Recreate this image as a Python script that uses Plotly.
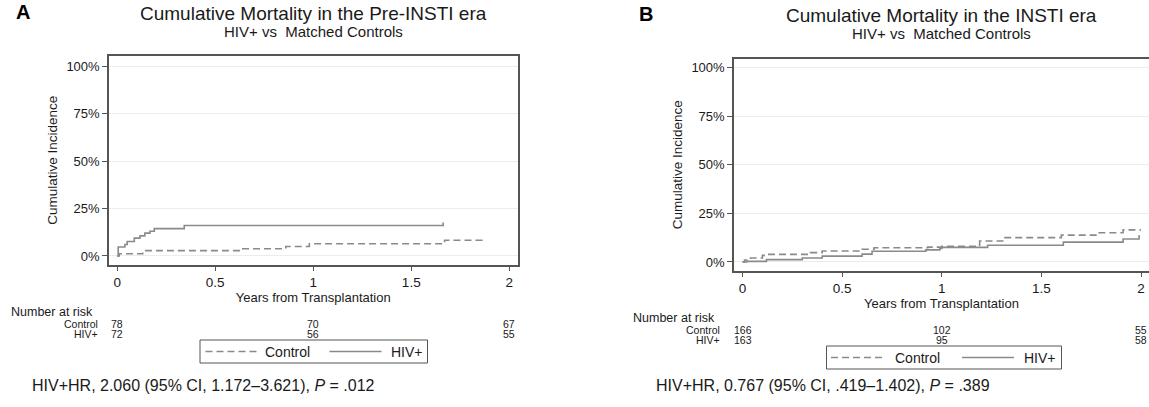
import plotly.graph_objects as go

W, H = 1149, 407

# ---------------- data ----------------
# Panel A: Pre-INSTI era (years, cumulative incidence %)
a_ctrl_t = [0, 0.01, 0.13, 0.63, 0.86, 0.98, 1.67, 1.86, 1.865]
a_ctrl_y = [0, 1.2, 2.8, 3.8, 5.0, 6.4, 8.3, 10.0, 10.0]
a_hiv_t = [0, 0.005, 0.039, 0.051, 0.087, 0.116, 0.141, 0.167, 0.189, 0.342, 1.663, 1.665]
a_hiv_y = [0, 4.7, 6.0, 7.6, 9.4, 10.6, 12.0, 13.0, 14.4, 16.0, 17.3, 17.3]

# Panel B: INSTI era
b_ctrl_t = [0, 0.01, 0.04, 0.10, 0.12, 0.34, 0.40, 0.60, 0.66, 0.93, 1.00, 1.19, 1.31, 1.60, 1.79, 1.91, 2.0]
b_ctrl_y = [0, 1.0, 2.0, 3.4, 3.9, 4.8, 5.6, 6.5, 7.3, 7.6, 8.0, 10.8, 12.5, 13.8, 15.0, 16.5, 16.5]
b_hiv_t = [0, 0.02, 0.12, 0.30, 0.40, 0.60, 0.65, 0.92, 0.99, 1.00, 1.23, 1.61, 1.91, 1.99, 1.995]
b_hiv_y = [0, 0.3, 1.2, 2.0, 3.0, 4.0, 5.5, 6.2, 7.0, 7.5, 8.6, 10.2, 11.8, 13.3, 13.3]

risk_times = [0, 1, 2]
a_risk_ctrl = [78, 70, 67]
a_risk_hiv = [72, 56, 55]
b_risk_ctrl = [166, 102, 55]
b_risk_hiv = [163, 95, 58]

x_ticks = [0, 0.5, 1, 1.5, 2]
x_ticktext = ["0", "0.5", "1", "1.5", "2"]
y_ticks = [0, 25, 50, 75, 100]
y_ticktext = ["0%", "25%", "50%", "75%", "100%"]

series_names = ["Control", "HIV+"]
titles = ["Cumulative Mortality in the Pre-INSTI era", "Cumulative Mortality in the INSTI era"]
subtitle = "HIV+ vs  Matched Controls"
hr_texts = ["HIV+HR, 2.060 (95% CI, 1.172\u20133.621), <i>P</i> = .012",
            "HIV+HR, 0.767 (95% CI, .419\u20131.402), <i>P</i> = .389"]

# ---------------- styling ----------------
FONT = "Liberation Sans, Arial, Helvetica, sans-serif"
LINE_COL = "#8a8a8a"
FRAME_COL = "#555555"
GRID_COL = "#ececec"
TXT = "#1a1a1a"
DASH = "7px,4px"

def px_x(p):
    return p / W

def px_y(p):
    return 1 - p / H

fig = go.Figure()

def add_pair(ct, cy, ht, hy, xa, ya):
    fig.add_trace(go.Scatter(x=ct, y=cy, mode="lines", line_shape="hv", name=series_names[0],
                             line=dict(color=LINE_COL, width=1.6, dash=DASH),
                             xaxis=xa, yaxis=ya, hoverinfo="skip"))
    fig.add_trace(go.Scatter(x=ht, y=hy, mode="lines", line_shape="hv", name=series_names[1],
                             line=dict(color=LINE_COL, width=1.6),
                             xaxis=xa, yaxis=ya, hoverinfo="skip"))

add_pair(a_ctrl_t, a_ctrl_y, a_hiv_t, a_hiv_y, "x", "y")
add_pair(b_ctrl_t, b_ctrl_y, b_hiv_t, b_hiv_y, "x2", "y2")

def xaxis_cfg(domain, rng, mirror):
    return dict(domain=domain, range=rng, tickmode="array", tickvals=x_ticks, ticktext=x_ticktext,
                ticks="outside", ticklen=5, tickcolor=FRAME_COL, tickwidth=1,
                showline=True, linecolor=FRAME_COL, linewidth=1.5, mirror=mirror,
                showgrid=False, zeroline=False,
                tickfont=dict(size=13.5, color=TXT, family=FONT),
                title=dict(text="Years from Transplantation", standoff=1,
                           font=dict(size=13, color=TXT, family=FONT)))

def yaxis_cfg(domain, rng, mirror, anchor):
    return dict(domain=domain, range=rng, tickmode="array", tickvals=y_ticks, ticktext=y_ticktext,
                ticks="outside", ticklen=5, tickcolor=FRAME_COL, tickwidth=1,
                showline=True, linecolor=FRAME_COL, linewidth=1.5, mirror=mirror,
                showgrid=True, gridcolor=GRID_COL, gridwidth=1, zeroline=False,
                anchor=anchor,
                tickfont=dict(size=13, color=TXT, family=FONT),
                title=dict(text="Cumulative Incidence", standoff=6,
                           font=dict(size=13.5, color=TXT, family=FONT)))

fig.update_layout(
    width=W, height=H, margin=dict(l=0, r=0, t=0, b=0),
    paper_bgcolor="white", plot_bgcolor="white",
    font=dict(family=FONT, color=TXT),
    xaxis=xaxis_cfg([px_x(109), px_x(517.5)], [-0.042, 2.042], True),
    yaxis=yaxis_cfg([px_y(264.5), px_y(56)], [-4.5, 105.3], True, "x"),
    xaxis2=dict(xaxis_cfg([px_x(734), 1.0], [-0.0428, 2.04], True), anchor="y2"),
    yaxis2=yaxis_cfg([px_y(270.5), px_y(59)], [-4.4, 104.4], False, "x2"),
    showlegend=False,
)

ann = []
shapes = []
def A(**kw):
    base = dict(showarrow=False, xanchor="center", yanchor="middle",
                font=dict(family=FONT, color=TXT, size=13))
    base.update(kw)
    ann.append(base)

# Panel letters
A(text="<b>A</b>", x=px_x(23), y=px_y(12.5), xref="paper", yref="paper",
  font=dict(family=FONT, color="black", size=20))
A(text="<b>B</b>", x=px_x(646), y=px_y(13.5), xref="paper", yref="paper",
  font=dict(family=FONT, color="black", size=20))

# Titles
for xr, ty, sy, t in [("x", 13.5, 31, titles[0]), ("x2", 15, 33, titles[1])]:
    A(text=t, x=1, xref=xr, y=px_y(ty), yref="paper",
      font=dict(family=FONT, color=TXT, size=19))
    A(text=subtitle, x=1, xref=xr, y=px_y(sy), yref="paper",
      font=dict(family=FONT, color=TXT, size=15))

# Number at risk tables
ROW = dict(family=FONT, color=TXT, size=10.5)
for (xr, nar_x, lab_x, y0, yc, yh, ctrl, hiv) in [
        ("x", 9, 100, 311.5, 323.5, 333.5, a_risk_ctrl, a_risk_hiv),
        ("x2", 631, 722, 317.5, 329.5, 339.5, b_risk_ctrl, b_risk_hiv)]:
    A(text="Number at risk", x=px_x(nar_x), xanchor="left", xref="paper",
      y=px_y(y0), yref="paper", font=dict(family=FONT, color=TXT, size=12.5))
    A(text=series_names[0], x=px_x(lab_x), xanchor="right", xref="paper",
      y=px_y(yc), yref="paper", font=ROW)
    A(text=series_names[1], x=px_x(lab_x), xanchor="right", xref="paper",
      y=px_y(yh), yref="paper", font=ROW)
    for t, c, h in zip(risk_times, ctrl, hiv):
        A(text=str(c), x=t, xref=xr, y=px_y(yc), yref="paper", font=ROW)
        A(text=str(h), x=t, xref=xr, y=px_y(yh), yref="paper", font=ROW)

# Legend boxes (one per panel, drawn as in the original layout)
LEG_FONT = dict(family=FONT, color=TXT, size=14)
for (bx0, bx1, by0, by1, d0, d1, tx1, s0, s1, tx2) in [
        (200, 427.5, 340, 363, 205.5, 257.5, 263, 329.5, 381.5, 389),
        (826.5, 1061.5, 346, 369, 831, 884, 893, 962, 1014, 1022)]:
    shapes.append(dict(type="rect", xref="paper", yref="paper",
                       x0=px_x(bx0), x1=px_x(bx1), y0=px_y(by1), y1=px_y(by0),
                       line=dict(color="#555555", width=1), fillcolor="white"))
    yc_ = px_y((by0 + by1) / 2)
    shapes.append(dict(type="line", xref="paper", yref="paper",
                       x0=px_x(d0), x1=px_x(d1), y0=yc_, y1=yc_,
                       line=dict(color=LINE_COL, width=1.6, dash=DASH)))
    shapes.append(dict(type="line", xref="paper", yref="paper",
                       x0=px_x(s0), x1=px_x(s1), y0=yc_, y1=yc_,
                       line=dict(color=LINE_COL, width=1.6)))
    A(text=series_names[0], x=px_x(tx1), xanchor="left", xref="paper", y=yc_, yref="paper",
      font=LEG_FONT)
    A(text=series_names[1], x=px_x(tx2), xanchor="left", xref="paper", y=yc_, yref="paper",
      font=LEG_FONT)

# HR texts
A(text=hr_texts[0], x=px_x(30), xanchor="left", xref="paper", y=px_y(385.5), yref="paper",
  font=dict(family=FONT, color=TXT, size=16))
A(text=hr_texts[1], x=px_x(654), xanchor="left", xref="paper", y=px_y(385), yref="paper",
  font=dict(family=FONT, color=TXT, size=16))

fig.update_layout(annotations=ann, shapes=shapes)
# the page is photographed at the window's top-left corner: drop the default body margin
fig.write_html("out.html", config={"displayModeBar": False},
               post_script="document.body.style.margin='0px';document.body.style.overflow='hidden';")
